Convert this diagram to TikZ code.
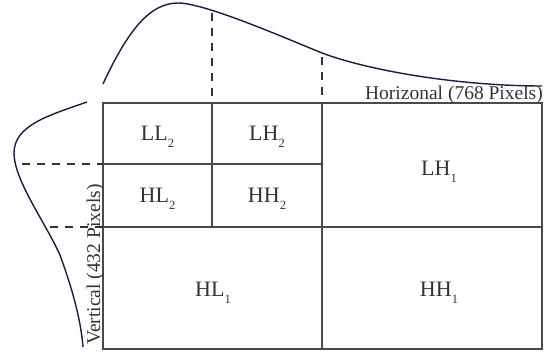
\documentclass[tikz,border=0pt]{standalone}
\usepackage{fontspec}
\setmainfont{Liberation Serif}
\definecolor{gridc}{HTML}{4A4A4A}
\definecolor{curvec}{HTML}{1C1C40}
\definecolor{txtc}{HTML}{333333}
\newcommand{\sbs}[1]{\lower7pt\hbox{\fontsize{12.5}{12.5}\selectfont #1}}
\begin{document}
\begin{tikzpicture}[x=1pt,y=-1pt,
  gridline/.style={draw=gridc,line width=1.3pt},
  curveline/.style={draw=curvec,line width=1.4pt},
  dashline/.style={draw=txtc,line width=1.1pt,dash pattern=on 8pt off 7pt},
  cell/.style={anchor=base,inner sep=0pt,text=txtc,font=\fontsize{22}{22}\selectfont},
  axlab/.style={inner sep=0pt,text=txtc,font=\fontsize{19.5}{20}\selectfont}]
\useasboundingbox (0,0) rectangle (550,355);
% grid
\coordinate (tl) at (103,103);
\coordinate (br) at (542,349);
\draw[gridline] (tl) rectangle (br);
\draw[gridline] (103,227) -- (542,227);
\draw[gridline] (322,103) -- (322,349);
\draw[gridline] (212,103) -- (212,227);
\draw[gridline] (103,164) -- (322,164);
% dashed guides
\draw[dashline] (212,13) -- (212,103);
\draw[dashline] (322,57) -- (322,103);
\draw[dashline] (22,164) -- (103,164);
\draw[dashline] (50,227) -- (103,227);
% horizontal distribution curve
\draw[curveline] (103,84) .. controls (128,30) and (150,3) .. (178,3)
  .. controls (205,3) and (285,38) .. (322,53)
  .. controls (370,71) and (460,86) .. (542,86);
% vertical distribution curve
\draw[curveline] (87,102) .. controls (50,115) and (14,125) .. (14,153)
  .. controls (14,180) and (45,222) .. (60,255)
  .. controls (66,272) and (80,310) .. (83,347);
% labels
\node[cell] (ll2) at (157.5,141) {LL\sbs{2}};
\node[cell] (lh2) at (267,141) {LH\sbs{2}};
\node[cell] (hl2) at (157.5,203) {HL\sbs{2}};
\node[cell] (hh2) at (267,203) {HH\sbs{2}};
\node[cell] (lh1) at (439,176) {LH\sbs{1}};
\node[cell] (hl1) at (213,297) {HL\sbs{1}};
\node[cell] (hh1) at (439,297) {HH\sbs{1}};
\node[axlab,anchor=base east] (hlab) at (543,100) {Horizonal (768 Pixels)};
\node[axlab,rotate=90,anchor=base west] (vlab) at (100,345) {Vertical (432 Pixels)};
\end{tikzpicture}
\end{document}
